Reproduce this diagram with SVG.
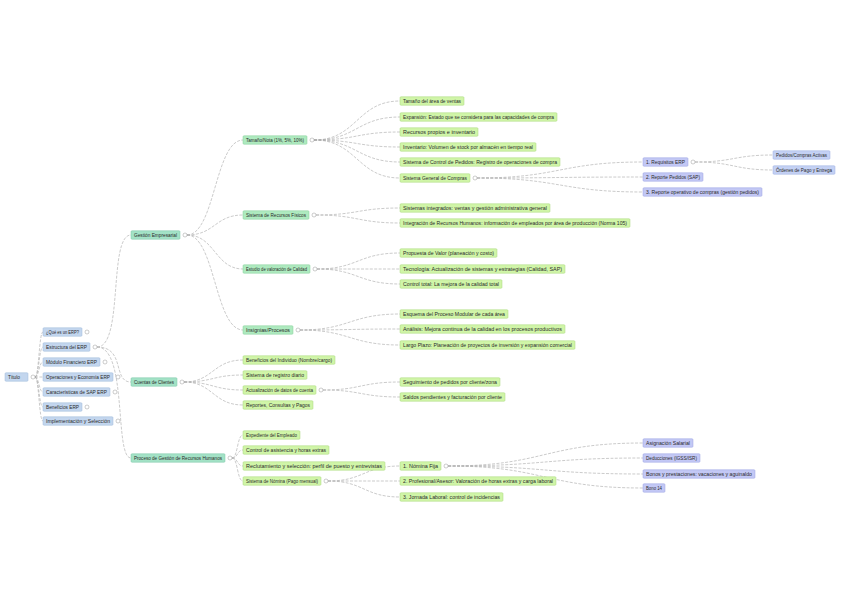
<svg xmlns="http://www.w3.org/2000/svg" width="848" height="599" viewBox="0 0 848 599">
<style>
rect{rx:1;ry:1;stroke-width:0.5}
.l1 rect{fill:#c3d6ee;stroke:#9fb8d8}
.l2 rect{fill:#a3e2c6;stroke:#7cc7a6}
.l3 rect{fill:#aeeabf;stroke:#86cf9b}
.l4 rect{fill:#d0f5a8;stroke:#a8d67c}
.l5 rect{fill:#c3c8f5;stroke:#9aa2e0}
.l6 rect{fill:#c4d1f4;stroke:#9dafe0}
text{font-family:"Liberation Sans",Arial,sans-serif;font-size:4.8px;fill:#2a2a2a}
.c path{fill:none;stroke:#a8a8a8;stroke-width:0.6;stroke-dasharray:3 1.4}
circle{fill:#fff;stroke:#999;stroke-width:0.5}
</style>
<rect x="0" y="0" width="848" height="599" fill="#fff" style="stroke:none"/>
<g class="c" id="connectors">
<path d="M35,377C39,377 39,332 43,332M35,377C39,377 39,347 43,347M35,377C39,377 39,362 43,362M35,377H43M35,377C39,377 39,392 43,392M35,377C39,377 39,407 43,407M35,377C39,377 39,421 43,421"/>
<path d="M97,347C124,347 108,235 131,235M97,347C126,347 112,382 131,382M97,347C128,347 114,458 131,458"/>
<path d="M187,235C215,235 215,140 243,140M187,235C215,235 215,215 243,215M187,235C215,235 215,269 243,269M187,235C215,235 215,330 243,330"/>
<path d="M184,382C213,382 213,360 243,360M184,382C213,382 213,375 243,375M184,382C213,382 213,390 243,390M184,382C213,382 213,405 243,405"/>
<path d="M232,458C238,458 237,435 243,435M232,458C238,458 237,450 243,450M232,458C238,458 237,466 243,466M232,458C238,458 237,481 243,481"/>
<path d="M314,140C357,140 357,101 400,101M314,140C357,140 357,117 400,117M314,140C357,140 357,132 400,132M314,140C357,140 357,147 400,147M314,140C357,140 357,162 400,162M314,140C357,140 357,178 400,178"/>
<path d="M316,215C358,215 358,208 400,208M316,215C358,215 358,223 400,223"/>
<path d="M317,269C358,269 358,253 400,253M317,269H400M317,269C358,269 358,284 400,284"/>
<path d="M300,330C350,330 350,314 400,314M300,330C350,330 350,329 400,329M300,330C350,330 350,345 400,345"/>
<path d="M477,178C560,178 560,162 643,162M477,178C560,178 560,177 643,177M477,178C560,178 560,192 643,192"/>
<path d="M695,162C734,162 734,155 773,155M695,162C734,162 734,170 773,170"/>
<path d="M323,390C361,390 361,382 400,382M323,390C361,390 361,397 400,397"/>
<path d="M328,481C364,481 364,466 400,466M328,481H400M328,481C364,481 364,497 400,497"/>
<path d="M448,466C545,466 545,443 643,443M448,466C545,466 545,458 643,458M448,466C545,466 545,474 643,474M448,466C545,466 545,488 643,488"/>
</g>
<g id="root" class="l1"><rect x="5" y="372.75" width="23" height="8.5"/><text x="8" y="378.6">Título</text><circle cx="33" cy="377" r="2"/></g>
<g id="n1" class="l1"><rect x="43" y="327.75" width="39" height="8.5"/><text x="46" y="333.6" textLength="33" lengthAdjust="spacingAndGlyphs">¿Qué es un ERP?</text><circle cx="87" cy="332" r="2"/></g>
<g id="n2" class="l1"><rect x="43" y="342.75" width="47" height="8.5"/><text x="46" y="348.6" textLength="41" lengthAdjust="spacingAndGlyphs">Estructura del ERP</text><circle cx="95" cy="347" r="2"/></g>
<g id="n3" class="l1"><rect x="43" y="357.75" width="57" height="8.5"/><text x="46" y="363.6" textLength="51" lengthAdjust="spacingAndGlyphs">Módulo Financiero ERP</text><circle cx="105" cy="362" r="2"/></g>
<g id="n4" class="l1"><rect x="43" y="372.75" width="70" height="8.5"/><text x="46" y="378.6" textLength="64" lengthAdjust="spacingAndGlyphs">Operaciones y Economía ERP</text><circle cx="118" cy="377" r="2"/></g>
<g id="n5" class="l1"><rect x="43" y="387.75" width="67" height="8.5"/><text x="46" y="393.6" textLength="61" lengthAdjust="spacingAndGlyphs">Características de SAP ERP</text><circle cx="115" cy="392" r="2"/></g>
<g id="n6" class="l1"><rect x="43" y="402.75" width="39" height="8.5"/><text x="46" y="408.6" textLength="33" lengthAdjust="spacingAndGlyphs">Beneficios ERP</text><circle cx="87" cy="407" r="2"/></g>
<g id="n7" class="l1"><rect x="43" y="416.75" width="70" height="8.5"/><text x="46" y="422.6" textLength="64" lengthAdjust="spacingAndGlyphs">Implementación y Selección</text><circle cx="118" cy="421" r="2"/></g>
<g id="A" class="l2"><rect x="131" y="230.75" width="49" height="8.5"/><text x="134" y="236.6" textLength="43" lengthAdjust="spacingAndGlyphs">Gestión Empresarial</text><circle cx="185" cy="235" r="2"/></g>
<g id="B" class="l2"><rect x="131" y="377.75" width="46" height="8.5"/><text x="134" y="383.6" textLength="40" lengthAdjust="spacingAndGlyphs">Cuentas de Clientes</text><circle cx="182" cy="382" r="2"/></g>
<g id="C" class="l2"><rect x="131" y="453.75" width="94" height="8.5"/><text x="134" y="459.6" textLength="88" lengthAdjust="spacingAndGlyphs">Proceso de Gestión de Recursos Humanos</text><circle cx="230" cy="458" r="2"/></g>
<g id="A1" class="l3"><rect x="243" y="135.75" width="64" height="8.5"/><text x="246" y="141.6" textLength="58" lengthAdjust="spacingAndGlyphs">Tamaño/Nota (1%, 5%, 10%)</text><circle cx="312" cy="140" r="2"/></g>
<g id="A2" class="l3"><rect x="243" y="210.75" width="66" height="8.5"/><text x="246" y="216.6" textLength="60" lengthAdjust="spacingAndGlyphs">Sistema de Recursos Físicos</text><circle cx="314" cy="215" r="2"/></g>
<g id="A3" class="l3"><rect x="243" y="264.75" width="67" height="8.5"/><text x="246" y="270.6" textLength="61" lengthAdjust="spacingAndGlyphs">Estudio de valoración de Calidad</text><circle cx="315" cy="269" r="2"/></g>
<g id="A4" class="l3"><rect x="243" y="325.75" width="50" height="8.5"/><text x="246" y="331.6" textLength="44" lengthAdjust="spacingAndGlyphs">Insignias/Procesos</text><circle cx="298" cy="330" r="2"/></g>
<g id="A1a" class="l4"><rect x="400" y="96.75" width="64" height="8.5"/><text x="403" y="102.6" textLength="58" lengthAdjust="spacingAndGlyphs">Tamaño del área de ventas</text></g>
<g id="A1b" class="l4"><rect x="400" y="112.75" width="157" height="8.5"/><text x="403" y="118.6" textLength="151" lengthAdjust="spacingAndGlyphs">Expansión: Estado que se considera para las capacidades de compra</text></g>
<g id="A1c" class="l4"><rect x="400" y="127.75" width="78" height="8.5"/><text x="403" y="133.6" textLength="72" lengthAdjust="spacingAndGlyphs">Recursos propios e inventario</text></g>
<g id="A1d" class="l4"><rect x="400" y="142.75" width="136" height="8.5"/><text x="403" y="148.6" textLength="130" lengthAdjust="spacingAndGlyphs">Inventario: Volumen de stock por almacén en tiempo real</text></g>
<g id="A1e" class="l4"><rect x="400" y="157.75" width="160" height="8.5"/><text x="403" y="163.6" textLength="154" lengthAdjust="spacingAndGlyphs">Sistema de Control de Pedidos: Registro de operaciones de compra</text></g>
<g id="A1f" class="l4"><rect x="400" y="173.75" width="70" height="8.5"/><text x="403" y="179.6" textLength="64" lengthAdjust="spacingAndGlyphs">Sistema General de Compras</text><circle cx="475" cy="178" r="2"/></g>
<g id="P1" class="l5"><rect x="643" y="157.75" width="45" height="8.5"/><text x="646" y="163.6" textLength="39" lengthAdjust="spacingAndGlyphs">1. Requisitos ERP</text><circle cx="693" cy="162" r="2"/></g>
<g id="P2" class="l5"><rect x="643" y="172.75" width="60" height="8.5"/><text x="646" y="178.6" textLength="54" lengthAdjust="spacingAndGlyphs">2. Reporte Pedidos (SAP)</text></g>
<g id="P3" class="l5"><rect x="643" y="187.75" width="119" height="8.5"/><text x="646" y="193.6" textLength="113" lengthAdjust="spacingAndGlyphs">3. Reporte operativo de compras (gestión pedidos)</text></g>
<g id="Q1" class="l6"><rect x="773" y="150.75" width="57" height="8.5"/><text x="776" y="156.6" textLength="51" lengthAdjust="spacingAndGlyphs">Pedidos/Compras Activas</text></g>
<g id="Q2" class="l6"><rect x="773" y="165.75" width="62" height="8.5"/><text x="776" y="171.6" textLength="56" lengthAdjust="spacingAndGlyphs">Órdenes de Pago y Entrega</text></g>
<g id="A2a" class="l4"><rect x="400" y="203.75" width="150" height="8.5"/><text x="403" y="209.6" textLength="144" lengthAdjust="spacingAndGlyphs">Sistemas integrados: ventas y gestión administrativa general</text></g>
<g id="A2b" class="l4"><rect x="400" y="218.75" width="230" height="8.5"/><text x="403" y="224.6" textLength="224" lengthAdjust="spacingAndGlyphs">Integración de Recursos Humanos: información de empleados por área de producción (Norma 105)</text></g>
<g id="A3a" class="l4"><rect x="400" y="248.75" width="97" height="8.5"/><text x="403" y="254.6" textLength="91" lengthAdjust="spacingAndGlyphs">Propuesta de Valor (planeación y costo)</text></g>
<g id="A3b" class="l4"><rect x="400" y="264.75" width="165" height="8.5"/><text x="403" y="270.6" textLength="159" lengthAdjust="spacingAndGlyphs">Tecnología: Actualización de sistemas y estrategias (Calidad, SAP)</text></g>
<g id="A3c" class="l4"><rect x="400" y="279.75" width="102" height="8.5"/><text x="403" y="285.6" textLength="96" lengthAdjust="spacingAndGlyphs">Control total: La mejora de la calidad total</text></g>
<g id="A4a" class="l4"><rect x="400" y="309.75" width="108" height="8.5"/><text x="403" y="315.6" textLength="102" lengthAdjust="spacingAndGlyphs">Esquema del Proceso Modular de cada área</text></g>
<g id="A4b" class="l4"><rect x="400" y="324.75" width="165" height="8.5"/><text x="403" y="330.6" textLength="159" lengthAdjust="spacingAndGlyphs">Análisis: Mejora continua de la calidad en los procesos productivos</text></g>
<g id="A4c" class="l4"><rect x="400" y="340.75" width="175" height="8.5"/><text x="403" y="346.6" textLength="169" lengthAdjust="spacingAndGlyphs">Largo Plazo: Planeación de proyectos de inversión y expansión comercial</text></g>
<g id="B1" class="l4"><rect x="243" y="355.75" width="92" height="8.5"/><text x="246" y="361.6" textLength="86" lengthAdjust="spacingAndGlyphs">Beneficios del Individuo (Nombre/cargo)</text></g>
<g id="B2" class="l4"><rect x="243" y="370.75" width="64" height="8.5"/><text x="246" y="376.6" textLength="58" lengthAdjust="spacingAndGlyphs">Sistema de registro diario</text></g>
<g id="B3" class="l4"><rect x="243" y="385.75" width="73" height="8.5"/><text x="246" y="391.6" textLength="67" lengthAdjust="spacingAndGlyphs">Actualización de datos de cuenta</text><circle cx="321" cy="390" r="2"/></g>
<g id="B4" class="l4"><rect x="243" y="400.75" width="70" height="8.5"/><text x="246" y="406.6" textLength="64" lengthAdjust="spacingAndGlyphs">Reportes, Consultas y Pagos</text></g>
<g id="B3a" class="l4"><rect x="400" y="377.75" width="100" height="8.5"/><text x="403" y="383.6" textLength="94" lengthAdjust="spacingAndGlyphs">Seguimiento de pedidos por cliente/zona</text></g>
<g id="B3b" class="l4"><rect x="400" y="392.75" width="105" height="8.5"/><text x="403" y="398.6" textLength="99" lengthAdjust="spacingAndGlyphs">Saldos pendientes y facturación por cliente</text></g>
<g id="C1" class="l4"><rect x="243" y="430.75" width="57" height="8.5"/><text x="246" y="436.6" textLength="51" lengthAdjust="spacingAndGlyphs">Expediente del Empleado</text></g>
<g id="C2" class="l4"><rect x="243" y="445.75" width="86" height="8.5"/><text x="246" y="451.6" textLength="80" lengthAdjust="spacingAndGlyphs">Control de asistencia y horas extras</text></g>
<g id="C3" class="l4"><rect x="243" y="461.75" width="142" height="8.5"/><text x="246" y="467.6" textLength="136" lengthAdjust="spacingAndGlyphs">Reclutamiento y selección: perfil de puesto y entrevistas</text></g>
<g id="C4" class="l4"><rect x="243" y="476.75" width="78" height="8.5"/><text x="246" y="482.6" textLength="72" lengthAdjust="spacingAndGlyphs">Sistema de Nómina (Pago mensual)</text><circle cx="326" cy="481" r="2"/></g>
<g id="D1" class="l4"><rect x="400" y="461.75" width="41" height="8.5"/><text x="403" y="467.6" textLength="35" lengthAdjust="spacingAndGlyphs">1. Nómina Fija</text><circle cx="446" cy="466" r="2"/></g>
<g id="D2" class="l4"><rect x="400" y="476.75" width="156" height="8.5"/><text x="403" y="482.6" textLength="150" lengthAdjust="spacingAndGlyphs">2. Profesional/Asesor: Valoración de horas extras y carga laboral</text></g>
<g id="D3" class="l4"><rect x="400" y="492.75" width="103" height="8.5"/><text x="403" y="498.6" textLength="97" lengthAdjust="spacingAndGlyphs">3. Jornada Laboral: control de incidencias</text></g>
<g id="E1" class="l5"><rect x="643" y="438.75" width="50" height="8.5"/><text x="646" y="444.6" textLength="44" lengthAdjust="spacingAndGlyphs">Asignación Salarial</text></g>
<g id="E2" class="l5"><rect x="643" y="453.75" width="57" height="8.5"/><text x="646" y="459.6" textLength="51" lengthAdjust="spacingAndGlyphs">Deducciones (IGSS/ISR)</text></g>
<g id="E3" class="l5"><rect x="643" y="469.75" width="112" height="8.5"/><text x="646" y="475.6" textLength="106" lengthAdjust="spacingAndGlyphs">Bonos y prestaciones: vacaciones y aguinaldo</text></g>
<g id="E4" class="l5"><rect x="643" y="483.75" width="22" height="8.5"/><text x="646" y="489.6" textLength="16" lengthAdjust="spacingAndGlyphs">Bono 14</text></g>
</svg>
